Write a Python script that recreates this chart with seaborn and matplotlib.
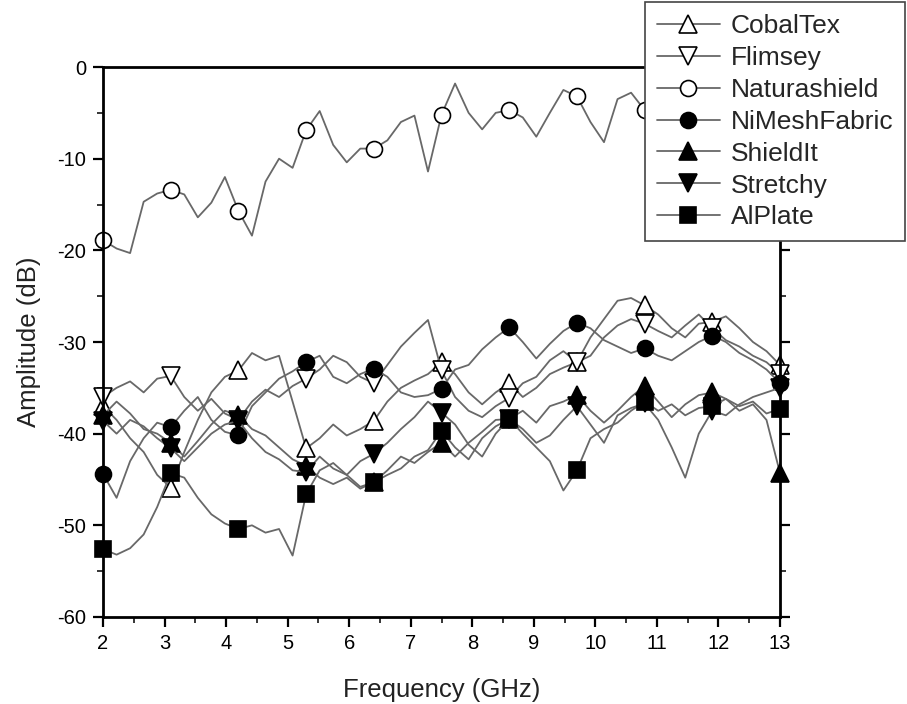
import numpy as np
import pandas as pd
import matplotlib
matplotlib.use("Agg")
import matplotlib.pyplot as plt
import seaborn as sns
from matplotlib.ticker import MultipleLocator

# Frequency grid (GHz), step 0.22 -> markers every 5 points (every 1.1 GHz)
freq = [2.00, 2.22, 2.44, 2.66, 2.88, 3.10, 3.32, 3.54, 3.76, 3.98,
        4.20, 4.42, 4.64, 4.86, 5.08, 5.30, 5.52, 5.74, 5.96, 6.18,
        6.40, 6.62, 6.84, 7.06, 7.28, 7.50, 7.72, 7.94, 8.16, 8.38,
        8.60, 8.82, 9.04, 9.26, 9.48, 9.70, 9.92, 10.14, 10.36, 10.58,
        10.80, 11.02, 11.24, 11.46, 11.68, 11.90, 12.12, 12.34, 12.56, 12.78,
        13.00]

cobaltex = [-37.0, -38.5, -40.5, -42.0, -44.5, -45.9, -42.0, -38.5, -35.5, -33.8,
            -33.1, -31.2, -32.0, -31.5, -36.5, -41.6, -40.5, -39.0, -40.2, -39.5,
            -38.6, -36.5, -35.0, -34.2, -33.5, -32.2, -33.5, -35.5, -36.8, -35.5,
            -34.5, -36.0, -35.0, -33.5, -32.8, -32.2, -29.5, -27.5, -25.5, -25.2,
            -26.0, -27.0, -28.5, -29.5, -28.0, -27.8, -27.2, -28.5, -30.0, -31.0,
            -32.5]

flimsey = [-36.0, -35.0, -34.3, -35.5, -34.0, -33.7, -36.0, -37.5, -36.2, -37.8,
           -38.5, -36.5, -35.2, -36.0, -34.8, -34.0, -33.0, -31.5, -32.2, -33.8,
           -34.5, -32.5, -30.5, -29.0, -27.6, -33.1, -36.0, -37.5, -38.2, -37.0,
           -36.1, -34.5, -33.8, -32.0, -31.0, -32.2, -31.5, -29.5, -28.2, -27.5,
           -28.0, -28.8, -29.5, -28.2, -27.0, -28.5, -29.8, -30.5, -31.5, -32.2,
           -33.5]

naturashield = [-18.9, -19.8, -20.3, -14.7, -13.8, -13.4, -13.9, -16.4, -14.8, -12.0,
                -15.7, -18.4, -12.5, -10.0, -11.0, -6.9, -4.8, -8.5, -10.4, -8.9,
                -8.9, -8.0, -6.0, -5.3, -11.4, -5.2, -1.8, -5.0, -6.8, -5.0,
                -4.7, -5.5, -7.6, -5.0, -2.5, -3.2, -6.0, -8.2, -3.5, -2.8,
                -4.7, -4.0, -3.2, -5.5, -6.0, -4.5, -3.8, -5.0, -6.2, -4.8,
                -4.0]

nimesh = [-44.4, -47.0, -43.0, -40.5, -38.8, -39.3, -37.5, -36.0, -38.5, -39.8,
          -40.2, -37.0, -35.5, -34.0, -33.2, -32.2, -31.5, -33.8, -34.5, -33.5,
          -32.9, -33.8, -35.5, -36.0, -35.8, -35.1, -33.0, -32.5, -30.8, -29.5,
          -28.4, -30.0, -31.8, -30.2, -28.8, -27.9, -28.5, -29.8, -30.5, -31.2,
          -30.7, -31.5, -32.0, -31.0, -30.0, -29.3, -30.0, -31.2, -32.0, -33.0,
          -34.5]

shieldit = [-38.0, -36.5, -37.8, -39.5, -40.0, -41.0, -42.5, -40.8, -39.0, -37.5,
            -38.0, -39.5, -40.2, -41.5, -42.8, -43.5, -44.8, -45.5, -44.8, -46.0,
            -45.3, -44.0, -42.5, -43.2, -42.0, -41.0, -42.5, -41.0, -39.8, -38.5,
            -38.4, -37.5, -38.8, -37.0, -36.5, -35.8, -37.5, -38.8, -37.5, -36.0,
            -34.8, -36.5, -38.2, -36.8, -35.8, -35.5, -36.2, -37.5, -36.8, -38.5,
            -44.3]

stretchy = [-38.6, -40.0, -38.5, -39.2, -40.5, -41.6, -43.0, -41.5, -40.0, -39.0,
            -38.6, -40.5, -42.0, -42.8, -44.0, -44.2, -42.5, -43.8, -44.5, -43.0,
            -42.2, -41.0, -39.5, -38.2, -36.5, -37.7, -39.0, -41.2, -42.5, -40.0,
            -38.4, -39.5, -41.0, -40.2, -38.5, -37.0, -39.0, -41.0, -38.0, -37.2,
            -36.7, -38.5, -41.5, -44.8, -40.0, -37.5, -38.0, -36.8, -36.0, -35.5,
            -35.0]

alplate = [-52.6, -53.2, -52.5, -51.0, -48.0, -44.3, -44.8, -47.0, -48.8, -49.8,
           -50.4, -50.0, -50.8, -50.4, -53.3, -46.6, -44.0, -43.2, -44.5, -45.8,
           -45.3, -44.5, -43.8, -42.5, -41.8, -39.7, -41.5, -42.8, -40.5, -39.2,
           -38.4, -40.0, -41.5, -43.0, -46.2, -44.0, -40.5, -39.5, -38.8, -37.5,
           -36.5, -37.5, -36.8, -38.0, -37.2, -37.0, -36.2, -37.0, -36.5, -37.8,
           -37.3]

series_names = ["CobalTex", "Flimsey", "Naturashield", "NiMeshFabric",
                "ShieldIt", "Stretchy", "AlPlate"]
series_values = [cobaltex, flimsey, naturashield, nimesh, shieldit, stretchy, alplate]
markers = ["^", "v", "o", "o", "^", "v", "s"]
fills = ["white", "white", "white", "black", "black", "black", "black"]
msizes = [13.5, 13.5, 11.5, 11.5, 13.5, 13.5, 11]

x_ticks = [2, 3, 4, 5, 6, 7, 8, 9, 10, 11, 12, 13]
y_ticks = [0, -10, -20, -30, -40, -50, -60]

sns.set_theme(style="white")
plt.rcParams["font.family"] = ["Liberation Sans", "DejaVu Sans"]
plt.rcParams["axes.unicode_minus"] = False

fig = plt.figure(figsize=(9.07, 7.04), dpi=100)
ax = fig.add_axes([0.1136, 0.1236, 0.7464, 0.7812])

line_color = "#686868"
for name, vals, mk, fc, ms in zip(series_names, series_values, markers, fills, msizes):
    df = pd.DataFrame({"Frequency": freq, "Amplitude": vals})
    sns.lineplot(data=df, x="Frequency", y="Amplitude", ax=ax,
                 color=line_color, linewidth=1.3, marker=mk, markevery=5,
                 markersize=ms, markerfacecolor=fc, markeredgecolor="black",
                 markeredgewidth=1.2, label=name, clip_on=False, legend=False)

ax.set_xlim(2, 13)
ax.set_ylim(-60, 0)
ax.set_xticks(x_ticks)
ax.set_yticks(y_ticks)
ax.yaxis.set_minor_locator(MultipleLocator(5))
ax.xaxis.set_minor_locator(MultipleLocator(0.5))
ax.tick_params(axis="both", which="major", direction="out", length=7, width=1.6,
               labelsize=14.5, colors="black", left=True, bottom=True, right=True,
               pad=5)
ax.tick_params(axis="both", which="minor", direction="out", length=4, width=1.3,
               left=True, bottom=True, right=True)
ax.tick_params(axis="y", labelright=False)
for sp in ax.spines.values():
    sp.set_visible(True)
    sp.set_color("black")
    sp.set_linewidth(2)

ax.set_xlabel("Frequency (GHz)", fontsize=18.5, color="#222222", labelpad=18)
ax.set_ylabel("Amplitude (dB)", fontsize=18.5, color="#222222", labelpad=12)

handles = ax.get_lines()
leg = fig.legend(handles=handles, labels=series_names, loc="upper right",
                 bbox_to_anchor=(0.998, 0.997), fontsize=19, frameon=True,
                 fancybox=False, shadow=False, handlelength=2.4,
                 borderpad=0.45, labelspacing=0.3, handletextpad=0.4,
                 borderaxespad=0.0)
leg.get_frame().set_edgecolor("#444444")
leg.get_frame().set_linewidth(1.2)
leg.get_frame().set_alpha(1.0)

fig.savefig("out.png", dpi=100)
